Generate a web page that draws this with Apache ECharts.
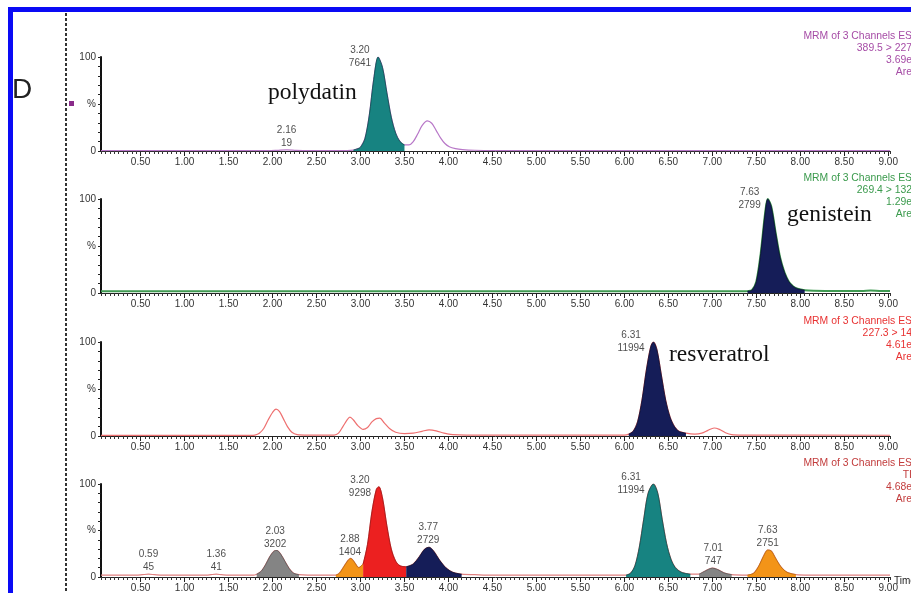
<!DOCTYPE html>
<html><head><meta charset="utf-8">
<script src="https://cdn.jsdelivr.net/npm/echarts@6/dist/echarts.min.js"></script>
<style>html,body{margin:0;padding:0;background:#fff}#c{width:911px;height:593px}</style>
</head><body><div id="c"></div>
<script>
// ---------- data ----------
const xTicks = [0.5,1.0,1.5,2.0,2.5,3.0,3.5,4.0,4.5,5.0,5.5,6.0,6.5,7.0,7.5,8.0,8.5,9.0];
const yTicks = [0, 50, 100];

// polydatin channel (389.5 > 227)
const trace1 = [[0.05,0.4],[1.95,0.4],[2.05,0.7],[2.16,1.2],[2.27,0.7],[2.40,0.4],[2.85,0.5],[2.92,1],[2.97,2.5],[3.00,4],[3.05,13],[3.10,38],[3.15,76],[3.20,100],[3.25,89],[3.30,62],[3.35,36],[3.40,19],[3.45,10],[3.50,6.5],[3.55,6.5],[3.60,10],[3.65,18],[3.70,27],[3.76,32],[3.81,29.5],[3.86,22],[3.91,14],[3.96,8],[4.01,4.5],[4.08,2.5],[4.16,1.5],[4.30,0.8],[4.50,0.5],[9.02,0.4]];
const fills1 = [[2.92,3.50,'teal']];
const labels1 = [['2.16','19'],['3.20','7641']];
const header1 = ['MRM of 3 Channels ES','389.5 > 227','3.69e','Are'];

// genistein channel (269.4 > 132)
const trace2 = [[0.05,1.8],[7.35,1.8],[7.40,2],[7.45,3],[7.50,12],[7.55,42],[7.60,85],[7.63,100],[7.67,92],[7.72,64],[7.77,38],[7.82,22],[7.87,12],[7.92,7],[7.97,4.5],[8.05,3],[8.15,2.5],[8.40,2.2],[8.70,2.2],[8.80,2.6],[8.90,2.2],[9.02,2]];
const fills2 = [[7.40,8.05,'navy']];
const labels2 = [['7.63','2799']];
const header2 = ['MRM of 3 Channels ES','269.4 > 132','1.29e','Are'];

// resveratrol channel (227.3 > 14x)
const trace3 = [[0.05,0.6],[1.75,0.6],[1.80,1],[1.85,3],[1.90,8],[1.95,17],[2.00,25],[2.04,28.5],[2.08,26],[2.12,19],[2.17,10],[2.22,4],[2.28,1.5],[2.40,1],[2.70,1],[2.75,3],[2.80,10],[2.85,17.5],[2.88,20],[2.92,17],[2.97,11],[3.03,7],[3.08,9],[3.13,15],[3.18,18.5],[3.22,19],[3.27,14],[3.33,8],[3.40,4],[3.50,2.5],[3.60,3],[3.70,5],[3.78,6.5],[3.86,5.5],[3.95,3],[4.05,1.5],[4.20,1],[6.00,1],[6.05,2],[6.10,5],[6.15,15],[6.20,38],[6.25,70],[6.30,95],[6.33,100],[6.37,92],[6.42,65],[6.47,38],[6.52,20],[6.57,10],[6.62,5],[6.70,3],[6.80,2],[6.88,3],[6.95,6],[7.02,8.5],[7.08,7],[7.15,3.5],[7.22,1.5],[7.35,1],[9.02,0.8]];
const fills3 = [[6.05,6.70,'navy']];
const labels3 = [['6.31','11994']];
const header3 = ['MRM of 3 Channels ES','227.3 > 14','4.61e','Are'];

// TIC
const trace4 = [[0.05,2],[0.45,2],[0.52,2.5],[0.59,3],[0.66,2.5],[0.75,2],[1.25,2],[1.30,2.5],[1.36,3],[1.42,2.5],[1.50,2],[1.78,2],[1.82,3],[1.87,6],[1.92,13],[1.97,22],[2.02,28],[2.05,28.5],[2.09,25],[2.14,17],[2.19,9],[2.24,4],[2.30,2.5],[2.40,2],[2.72,2],[2.76,4],[2.81,11],[2.86,18],[2.89,20],[2.93,16],[2.98,10],[3.03,14],[3.08,35],[3.13,70],[3.18,94],[3.21,97],[3.25,85],[3.30,55],[3.35,30],[3.40,17],[3.45,12],[3.52,11],[3.60,14],[3.67,22],[3.73,30],[3.78,32],[3.83,28],[3.90,18],[3.97,10],[4.05,5],[4.15,3],[4.30,2.5],[4.50,2],[6.02,2],[6.07,4],[6.12,12],[6.17,32],[6.22,62],[6.27,90],[6.33,100],[6.38,90],[6.43,62],[6.48,36],[6.53,19],[6.58,10],[6.65,5],[6.75,3],[6.85,3],[6.92,6.5],[7.00,9.5],[7.06,8],[7.13,4.5],[7.22,2.5],[7.40,2],[7.47,4],[7.53,12],[7.58,22],[7.63,29],[7.67,28],[7.72,20],[7.78,11],[7.85,5],[7.95,2.5],[8.10,2],[9.02,2]];
const fills4 = [[1.82,2.30,'gray'],[2.72,3.03,'orange'],[3.03,3.52,'red'],[3.52,4.15,'navy'],[6.02,6.75,'teal'],[6.85,7.22,'gray'],[7.40,7.95,'orange']];
const labels4 = [['0.59','45'],['1.36','41'],['2.03','3202'],['2.88','1404'],['3.20','9298'],['3.77','2729'],['6.31','11994'],['7.01','747'],['7.63','2751']];
const header4 = ['MRM of 3 Channels ES','TI','4.68e','Are'];

const compoundNames = ['polydatin','genistein','resveratrol'];

// ---------- styles ----------
const fillColors = {teal:'#178381', navy:'#151d58', gray:'#848484', orange:'#f39418', red:'#ec2020'};
const edgeColors = {teal:'#0d4d4c', navy:'#0a0f30', gray:'#555555', orange:'#b86a08', red:'#a01010'};
const panelTops = [57,199,342,484];
const panelH = 94;
const panels = [
  {trace:trace1, fills:fills1, labels:labels1, header:header1, line:'#b878c8', lw:1.2, hc:'#a64ca6'},
  {trace:trace2, fills:fills2, labels:labels2, header:header2, line:'#3f9a52', lw:2, hc:'#3a9a4c'},
  {trace:trace3, fills:fills3, labels:labels3, header:header3, line:'#ee7070', lw:1.2, hc:'#e83232'},
  {trace:trace4, fills:fills4, labels:labels4, header:header4, line:'#e08080', lw:1.2, hc:'#c23c3c'}
];
const FONT = '"Liberation Sans", Arial, sans-serif';
const XMIN = 0.05, XMAX = 9.02;

const mctx = document.createElement('canvas').getContext('2d');
mctx.font = '10px ' + FONT;
function tw(s){ return mctx.measureText(s).width; }

function apexOf(trace, t){
  let m = 0;
  trace.forEach(d => { if (Math.abs(d[0]-t) <= 0.06 && d[1] > m) m = d[1]; });
  return m;
}

const grid = [], xAxis = [], yAxis = [], series = [], graphic = [];
panels.forEach((p, i) => {
  grid.push({left:101, right:21, top:panelTops[i], height:panelH});
  xAxis.push({
    type:'value', gridIndex:i, min:XMIN, max:XMAX, interval:0.05, position:'bottom',
    axisLine:{show:true, onZero:false, lineStyle:{color:'#222', width:1}},
    axisTick:{show:true, length:3, lineStyle:{color:'#333', width:1}},
    splitLine:{show:false},
    axisLabel:{show:true, margin:6, fontSize:10, color:'#333', fontFamily:FONT,
      formatter: v => { const k = Math.round(v*100); return (k % 50 === 0 && k >= 50) ? (k/100).toFixed(2) : ''; }}
  });
  xAxis.push({
    type:'value', gridIndex:i, min:XMIN, max:XMAX, position:'bottom', offset:0,
    axisLine:{show:false}, splitLine:{show:false}, axisLabel:{show:false},
    axisTick:{show:true, length:5, customValues:xTicks, lineStyle:{color:'#222', width:1}}
  });
  yAxis.push({
    type:'value', gridIndex:i, min:0, max:100, interval:10,
    axisLine:{show:true, lineStyle:{color:'#111', width:2}},
    axisTick:{show:true, length:3, lineStyle:{color:'#222'}},
    splitLine:{show:false},
    axisLabel:{show:true, margin:5, fontSize:10, color:'#333', fontFamily:FONT,
      formatter: v => v === 0 ? '0' : (v === 100 ? '100' : (v === 50 ? '%' : ''))}
  });
  series.push({
    type:'line', xAxisIndex:2*i, yAxisIndex:i, data:p.trace, symbol:'none', smooth:0.3,
    lineStyle:{color:p.line, width:p.lw}, z:2, silent:true
  });
  p.fills.forEach(f => {
    const pts = p.trace.filter(d => d[0] >= f[0]-1e-9 && d[0] <= f[1]+1e-9);
    series.push({
      type:'line', xAxisIndex:2*i, yAxisIndex:i, data:pts, symbol:'none', smooth:0.3,
      lineStyle:{color:edgeColors[f[2]], width:0.8},
      areaStyle:{color:fillColors[f[2]], opacity:1}, z:3, silent:true
    });
  });
  const ld = p.labels.map(l => {
    const t = parseFloat(l[0]);
    const h = apexOf(p.trace, t);
    const w = Math.max(tw(l[0]), tw(l[1]));
    const off = h > 60 ? [-(w/2 + 7), 0] : [0, -13];
    return {value:[t, h], t:l[0], a:l[1], label:{offset:off}};
  });
  series.push({
    type:'scatter', xAxisIndex:2*i, yAxisIndex:i, data:ld, symbolSize:1,
    itemStyle:{color:'rgba(0,0,0,0)'}, z:6, silent:true,
    label:{show:true, position:'inside', align:'center', verticalAlign:'middle',
      fontSize:10, lineHeight:13, color:'#222', fontFamily:FONT,
      formatter: q => q.data.t + '\n' + q.data.a}
  });
  p.header.forEach((s, k) => {
    graphic.push({type:'text', z:10, style:{text:s, x:912, y:panelTops[i]-21+12*k,
      textAlign:'right', textVerticalAlign:'middle', fill:p.hc, font:'10.4px ' + FONT}});
  });
});

// compound names
const namePos = [[268,93],[787,215],[669,355]];
compoundNames.forEach((s, k) => {
  graphic.push({type:'text', z:10, style:{text:s, x:namePos[k][0], y:namePos[k][1],
    textAlign:'left', textVerticalAlign:'middle', fill:'#111', font:'23.5px "Liberation Serif", "Times New Roman", serif'}});
});
// Time axis title
graphic.push({type:'text', z:10, style:{text:'Time', x:894, y:581, textAlign:'left', textVerticalAlign:'middle', fill:'#222', font:'10px ' + FONT}});
// panel letter
graphic.push({type:'text', z:10, style:{text:'D', x:12, y:90, textAlign:'left', textVerticalAlign:'middle', fill:'#222', font:'28px ' + FONT}});
// dashed divider
graphic.push({type:'line', z:9, shape:{x1:66, y1:13, x2:66, y2:593}, style:{stroke:'#333', lineWidth:2, lineDash:[3,2]}});
// marker square
graphic.push({type:'rect', z:9, shape:{x:69, y:101, width:5, height:5}, style:{fill:'#8a2b8a'}});
// blue frame
graphic.push({type:'rect', z:20, shape:{x:10.5, y:9.5, width:930, height:620}, style:{fill:'none', stroke:'#0a0af5', lineWidth:5}});

const chart = echarts.init(document.getElementById('c'), null, {renderer:'canvas'});
chart.setOption({animation:false, backgroundColor:'#fff', grid, xAxis, yAxis, series, graphic});
</script></body></html>
